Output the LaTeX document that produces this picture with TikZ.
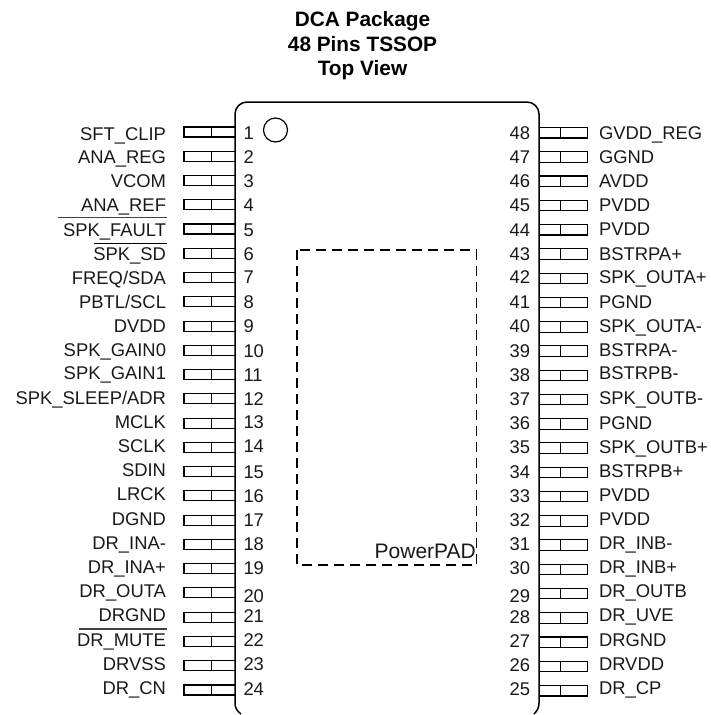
\documentclass[tikz,border=0pt]{standalone}
\usepackage{fontspec}
\setmainfont{Liberation Sans}
\tikzset{
  body/.style={black,line width=1.5pt},
  pinbox/.style={black,line width=1.1pt},
  pindiv/.style={black,line width=0.9pt},
  padline/.style={black,line width=1.2pt,dash pattern=on 10pt off 6pt},
  overbar/.style={black!75,line width=1.2pt},
  lbl/.style={inner sep=0pt,outer sep=0pt,font=\fontsize{18.4pt}{20pt}\selectfont,text=black!90},
  ttl/.style={inner sep=0pt,font=\fontsize{20.8pt}{24pt}\selectfont\bfseries,anchor=base}
}
\begin{document}
\begin{tikzpicture}[x=1pt,y=-1pt]
\useasboundingbox (0,0) rectangle (710,715);
% title
\node[ttl] (t1) at (362.5,26.5) {DCA Package};
\node[ttl] (t2) at (362.5,51.5) {48 Pins TSSOP};
\node[ttl] (t3) at (362.5,75) {Top View};
% left pins: number / label / label baseline / number baseline
\foreach \n/\t/\b/\m in {
 1/SFT\_CLIP/140/139, 2/ANA\_REG/163/163, 3/VCOM/187/187, 4/ANA\_REF/211/211,
 5/SPK\_FAULT/236/236, 6/SPK\_SD/260/260, 7/{FREQ/SDA}/284/283, 8/{PBTL/SCL}/308/308,
 9/DVDD/332/332, 10/SPK\_GAIN0/356.7/357, 11/SPK\_GAIN1/379.5/381, 12/{SPK\_SLEEP/ADR}/404/405,
 13/MCLK/428/428, 14/SCLK/452.7/452, 15/SDIN/476.7/478, 16/LRCK/500.7/502,
 17/DGND/525/526, 18/DR\_INA-/549/550, 19/DR\_INA+/573/574, 20/DR\_OUTA/597/602,
 21/DRGND/621/622.7, 22/DR\_MUTE/646/646.7, 23/DRVSS/670/670.7, 24/DR\_CN/694/695}
{
  \pgfmathsetmacro\ty{127+(\n-1)*24.26}
  \draw[pinbox] (235,\ty) -- (184,\ty) -- (184,\ty+10) -- (235,\ty+10);
  \draw[pindiv] (211.3,\ty) -- (211.3,\ty+10);
  \node[lbl,anchor=base east] (L\n) at (166,\b) {\t};
  \node[lbl,anchor=base west] (N\n) at (243.5,\m) {\n};
}
% right pins
\foreach \n/\t/\b/\m in {
 48/GVDD\_REG/139/139, 47/GGND/163/163, 46/AVDD/187/187, 45/PVDD/211/211,
 44/PVDD/235/236, 43/BSTRPA+/260/260, 42/SPK\_OUTA+/283/283, 41/PGND/308/308,
 40/SPK\_OUTA-/332/332, 39/BSTRPA-/356/357, 38/BSTRPB-/379/381, 37/SPK\_OUTB-/404/405,
 36/PGND/429/429, 35/SPK\_OUTB+/453/453, 34/BSTRPB+/477/478, 33/PVDD/501/502,
 32/PVDD/525/526, 31/DR\_INB-/549/550, 30/DR\_INB+/573/574, 29/DR\_OUTB/597/602,
 28/DR\_UVE/621/623, 27/DRGND/646/647, 26/DRVDD/670/671, 25/DR\_CP/694/695}
{
  \pgfmathsetmacro\ty{127.5+(48-\n)*24.26}
  \draw[pinbox] (539,\ty) -- (587.5,\ty) -- (587.5,\ty+10.5) -- (539,\ty+10.5);
  \draw[pindiv] (560.5,\ty) -- (560.5,\ty+10.5);
  \node[lbl,anchor=base west] (L\n) at (599,\b) {\t};
  \node[lbl,anchor=base east] (N\n) at (530,\m) {\n};
}
% overbars
\draw[overbar] (58,217.7) -- (167,217.7);
\draw[overbar,black] (94,243.7) -- (167,243.7);
\draw[overbar] (79,629) -- (167,629);
% package body, open at the bottom
\draw[body] (241,714) .. controls (237,711) and (235,708) .. (235,703)
  -- (235,114) .. controls (235,107.4) and (240.4,102) .. (247,102)
  -- (527,102) .. controls (533.6,102) and (539,107.4) .. (539,114)
  -- (539,703) .. controls (539,708) and (537,711) .. (534,714);
% pin 1 marker
\node[draw=black,line width=1.2pt,circle,minimum size=24pt,inner sep=0pt] (mark) at (275.5,130) {};
% PowerPAD
\draw[padline] (297,250) rectangle (476.5,565);
\node[inner sep=0pt,anchor=base east,font=\fontsize{21pt}{24pt}\selectfont,text=black!90] (pad) at (476,558) {PowerPAD};
\end{tikzpicture}
\end{document}
